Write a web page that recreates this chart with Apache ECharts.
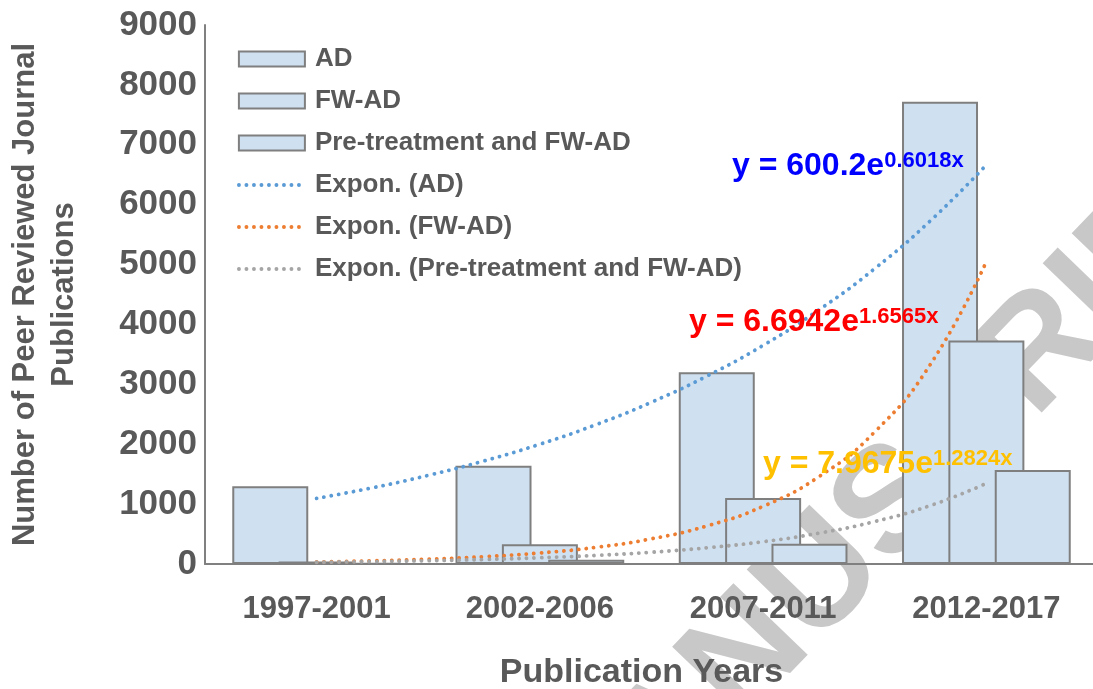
<!DOCTYPE html>
<html lang="en">
<head>
  <meta charset="UTF-8">
  <title>Publications</title>
  <style>
      html, body {
          margin: 0;
          padding: 0;
          background: #fff;
      }
      #chart {
          width: 1093px;
          height: 689px;
      }
  </style>
</head>
<body>
<div id="chart"></div>

<script src="https://cdn.jsdelivr.net/npm/echarts@6/dist/echarts.min.js"></script>
<script>

  // data
  const years = ['1997-2001', '2002-2006', '2007-2011', '2012-2017'];
  const adCounts = [1300, 1640, 3200, 7720];
  const fwAdCounts = [40, 330, 1100, 3730];
  const preFwAdCounts = [10, 70, 340, 1570];

  // trend lines (Excel exponential fits), read at quarter steps between category centres
  const trendX = [1, 1.25, 1.5, 1.75, 2, 2.25, 2.5, 2.75, 3, 3.25, 3.5, 3.75, 4];
  const adTrend = [1096, 1273, 1480, 1721, 2000, 2325, 2702, 3141, 3651, 4244, 4933, 5734, 6665];
  const fwAdTrend = [35, 53, 80, 122, 184, 278, 421, 637, 964, 1458, 2206, 3338, 5050];
  const preFwAdTrend = [29, 40, 55, 75, 104, 143, 197, 271, 373, 515, 709, 977, 1346];

  const yTicks = [0, 1000, 2000, 3000, 4000, 5000, 6000, 7000, 8000, 9000];

  const font = "'Liberation Sans', Arial, sans-serif";
  const grey = '#595959';
  const dots = {width: 3.8, type: [0.1, 7.4], cap: 'round'};

  function pairs(ys) {
    return trendX.map(function (x, i) { return [x, ys[i]]; });
  }

  const barStyle = {
    color: '#cfe0f1',
    borderColor: '#7f7f7f',
    borderWidth: 2
  };

  function barSeries(name, data) {
    return {
      name: name,
      type: 'bar',
      data: data,
      barWidth: 76,
      barGap: '-39%',
      itemStyle: barStyle,
      z: 2
    };
  }

  function trendSeries(name, data, color) {
    return {
      name: name,
      type: 'line',
      xAxisIndex: 1,
      data: pairs(data),
      smooth: true,
      symbol: 'none',
      itemStyle: {color: color},
      lineStyle: Object.assign({color: color}, dots),
      z: 3
    };
  }

  function equation(x, top, main, sup, color) {
    return {
      type: 'text',
      x: x,
      y: top,
      z: 100,
      style: {
        text: '{m|' + main + '}{s|' + sup + '}',
        fill: color,
        rich: {
          m: {fontFamily: font, fontWeight: 'bold', fontSize: 32, lineHeight: 32, padding: [5, 0, 0, 0], verticalAlign: 'bottom', fill: color},
          s: {fontFamily: font, fontWeight: 'bold', fontSize: 22, lineHeight: 22, verticalAlign: 'top', fill: color}
        }
      }
    };
  }

  function legendItem(name, isLine) {
    return isLine
      ? {name: name, itemStyle: {opacity: 0}, lineStyle: dots}
      : {name: name, icon: 'rect'};
  }

  const chart = echarts.init(document.getElementById('chart'));

  const option = {
    animation: false,
    backgroundColor: '#fff',
    grid: {
      left: 205,
      top: 25,
      width: 893,
      bottom: 125,
      containLabel: false,
      outerBoundsMode: 'none'
    },
    legend: {
      orient: 'vertical',
      left: 237,
      top: 46,
      padding: 0,
      itemWidth: 66,
      itemHeight: 15,
      itemGap: 16,
      data: [
        legendItem('AD', false),
        legendItem('FW-AD', false),
        legendItem('Pre-treatment and FW-AD', false),
        legendItem('Expon. (AD)', true),
        legendItem('Expon. (FW-AD)', true),
        legendItem('Expon. (Pre-treatment and FW-AD)', true)
      ],
      textStyle: {
        fontFamily: font,
        fontWeight: 'bold',
        fontSize: 26,
        lineHeight: 26,
        color: grey,
        padding: [0, 0, 0, 5]
      }
    },
    xAxis: [
      {
        type: 'category',
        data: years,
        name: 'Publication Years',
        nameLocation: 'middle',
        nameGap: 92,
        nameTextStyle: {fontFamily: font, fontWeight: 'bold', fontSize: 34, color: grey, padding: [0, 20, 0, 0]},
        axisLine: {lineStyle: {color: '#808080', width: 2}},
        axisTick: {length: 10, lineStyle: {color: '#808080', width: 2}},
        axisLabel: {fontFamily: font, fontWeight: 'bold', fontSize: 31, color: grey, margin: 30}
      },
      {
        type: 'value',
        min: 0.5,
        max: 4.5,
        show: false
      }
    ],
    yAxis: {
      type: 'value',
      min: yTicks[0],
      max: yTicks[yTicks.length - 1],
      interval: 1000,
      name: 'Number of Peer Reviewed Journal\nPublications',
      nameLocation: 'middle',
      nameGap: 121,
      nameTextStyle: {fontFamily: font, fontWeight: 'bold', fontSize: 31, lineHeight: 39, color: grey},
      axisLine: {show: true, lineStyle: {color: '#808080', width: 2}},
      axisTick: {show: false},
      splitLine: {show: false},
      axisLabel: {
        fontFamily: font, fontWeight: 'bold', fontSize: 35, color: grey, margin: 8,
        formatter: function (v) { return String(v); }
      }
    },
    graphic: [
      {
        // faint watermark from the source page
        type: 'text',
        x: 895,
        y: 505,
        rotation: 46 * Math.PI / 180,
        z: 0,
        silent: true,
        style: {
          text: 'MANUSCRIPT',
          font: 'bold 150px ' + font,
          fill: '#c8c8c8',
          align: 'center',
          verticalAlign: 'middle'
        }
      },
      equation(732, 150, 'y = 600.2e', '0.6018x', '#0000ff'),
      equation(689, 306, 'y = 6.6942e', '1.6565x', '#ff0000'),
      equation(763, 448, 'y = 7.9675e', '1.2824x', '#ffc000')
    ],
    series: [
      barSeries('AD', adCounts),
      barSeries('FW-AD', fwAdCounts),
      barSeries('Pre-treatment and FW-AD', preFwAdCounts),
      trendSeries('Expon. (AD)', adTrend, '#5b9bd5'),
      trendSeries('Expon. (FW-AD)', fwAdTrend, '#ed7d31'),
      trendSeries('Expon. (Pre-treatment and FW-AD)', preFwAdTrend, '#a5a5a5')
    ]
  };

  chart.setOption(option);

</script>
</body>
</html>
